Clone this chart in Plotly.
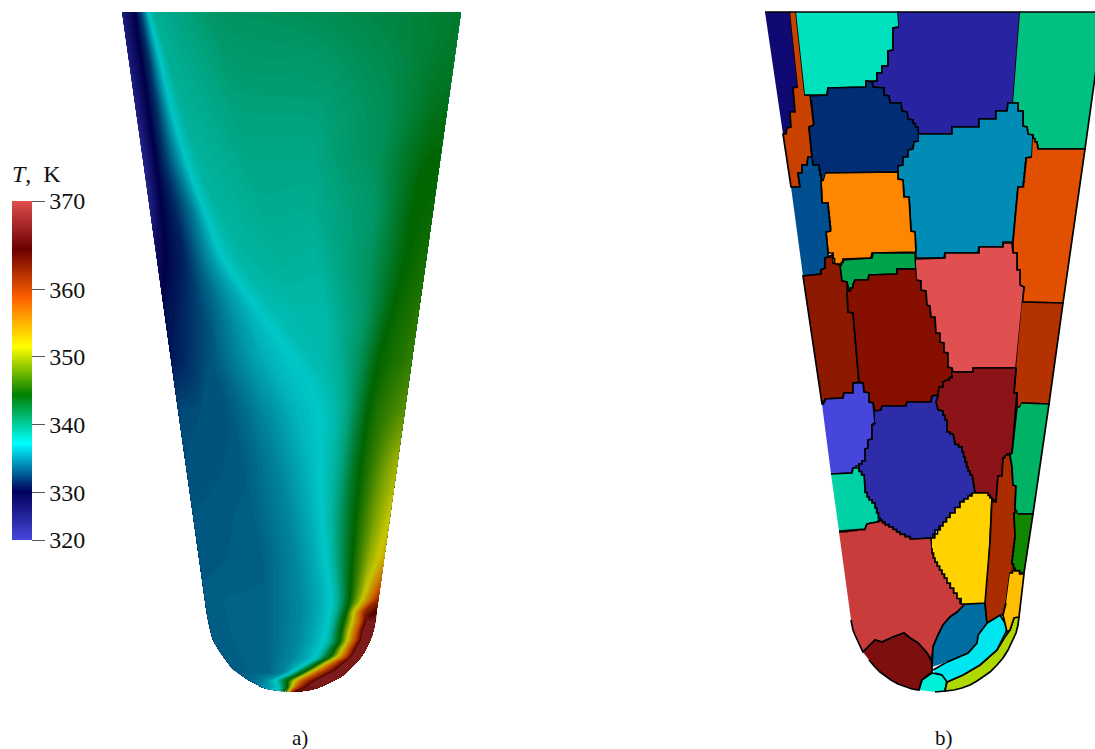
import plotly.graph_objects as go

# ---------- colour scale (position on colour bar, colour) ----------
scale_pos = [0, 0.143, 0.285, 0.429, 0.571, 0.714, 0.857, 1]
scale_col = [(71, 71, 219), (0, 0, 92), (0, 255, 255), (0, 128, 0),
             (255, 255, 0), (255, 97, 0), (107, 0, 0), (224, 77, 77)]
field_shade = 0.78
bar_vals = [323, 330, 340, 350, 360, 373]
bar_text = ["320", "330", "340", "350", "360", "370"]

# ---------- panel a): temperature readings, row by row, across the section ----------
row_y = [
    [12]*14, [60]*14, [110]*14, [160]*14, [210]*14, [260]*14, [310]*14, [360]*14, [410]*14,
    [460]*14, [510]*14, [560]*14, [600]*14, [612]*14,
    [620, 620, 620, 620, 621, 621, 621, 621, 621, 622, 622, 622, 622, 622],
    [630]*13 + [631],
    [640, 640, 640, 640, 640, 640, 641, 642, 642, 642, 641, 641, 640, 640],
    [648, 648, 649, 649, 649, 649, 649.5, 649.5, 649, 649, 648.5, 648.5, 648, 648],
    [655, 656, 658, 658, 658, 658, 658, 657, 656.5, 656, 656, 656, 656, 656],
    [662, 663, 665, 665.5, 664, 663.5, 663.5, 663, 662.5, 662.5, 662.5, 663, 663, 663],
    [668, 669, 672, 673, 670, 669.5, 669, 668.5, 668.5, 669, 669, 670, 670, 670],
    [674, 675, 676.5, 677, 675.5, 675, 675, 674.5, 674.5, 675, 675, 675.5, 675.5, 675.5],
    [680, 681, 681, 681, 680.5, 680.5, 680.5, 680.5, 680.5, 681, 681, 681, 681, 681],
    [684, 684.5, 685, 685, 684.5, 684.5, 684.5, 684.5, 684.5, 684.5, 684.5, 684.6, 684.6, 684.6],
    [687, 687.5, 688, 688, 688, 688, 688, 688, 688, 688, 688, 688, 688, 688],
    [690, 690.5, 691, 691, 691, 691, 691, 691, 691, 691.5, 691.5, 691.8, 691.8, 691.6],
]
row_x = [
    [122, 135, 141, 145, 148, 154, 220, 320, 390, 430, 442, 450, 456, 461],
    [128.8, 142, 149, 155, 160, 168, 230, 320, 390, 425, 437, 445, 450, 454.3],
    [135.8, 149, 157, 165, 172, 182, 240, 320, 390, 420, 430, 437, 442, 447.2],
    [142.9, 156, 165, 177, 187, 197, 250, 310, 380, 424, 430, 434, 437, 440.2],
    [149.9, 162, 175, 193, 205, 217, 265, 310, 375, 413, 420, 425, 430, 433.2],
    [157, 168, 185, 205, 225, 240, 280, 315, 370, 405, 415, 420, 424, 426.2],
    [164, 175, 195, 235, 260, 272, 295, 325, 365, 392, 402, 410, 415, 419.1],
    [171, 182, 220, 262, 297, 312, 325, 340, 360, 378, 388, 396, 404, 412],
    [178, 200, 227, 260, 293, 322, 335, 347, 357, 368, 378, 388, 397, 405],
    [185.1, 210, 240, 275, 305, 322, 333, 343, 352, 361, 372, 381, 390, 398],
    [192.2, 220, 250, 287, 310, 323, 332, 340, 348, 356, 366, 375, 384, 391],
    [199.2, 225, 260, 295, 315, 327, 334, 341, 347, 352, 361, 369, 377, 384],
    [204.8, 225, 265, 300, 320, 332, 338, 343, 347, 350, 356, 362, 369, 378.4],
    [206.5, 226, 267, 302, 319, 330.5, 336, 340.5, 344, 347, 352, 358.5, 365, 376.5],
    [208, 228, 268, 300, 318, 329, 334, 338, 341, 344, 352, 360, 366, 375],
    [210.2, 230, 268, 299, 316, 327, 332, 335.5, 338.5, 341.8, 349.5, 357.5, 363, 373.5],
    [213, 232, 268, 298, 314, 325, 330, 333, 336, 339.5, 347, 354.5, 361, 370.3],
    [217.5, 236, 268, 295, 310.5, 320, 325, 328, 331.5, 335, 342.5, 350, 356.5, 366.5],
    [222, 240, 268, 292, 307, 315, 320, 323, 327, 331, 338, 346, 352, 362],
    [227.3, 244, 268, 287, 299, 306, 310.5, 313.5, 317, 320.5, 327, 335, 344, 356],
    [232, 248, 268, 283, 291, 297, 301, 304, 307, 310, 316, 324, 336, 349],
    [239.6, 253, 267, 276.5, 282, 287, 290.5, 293.5, 296, 299, 305, 313.5, 325.5, 343],
    [248, 258, 266, 270, 273, 277, 280, 283, 285, 288, 294, 303, 315, 333],
    [256, 262, 268.5, 272, 275, 278.5, 281, 283.5, 285.5, 288, 292.5, 299.5, 309.5, 325.7],
    [261, 266, 271, 274, 277, 280, 282, 284, 286, 288, 291, 296, 304, 318],
    [273, 276, 278, 279.5, 281, 282.5, 284, 285, 286, 287, 289, 291, 294, 300],
]
row_t = [
    [326.3, 330.2, 332.5, 335, 337.3, 339, 341, 341.4, 342, 342.4, 342.6, 342.7, 342.8, 342.8],
    [326.3, 330.2, 332, 335, 337.3, 339, 340.5, 340.7, 341.7, 342.5, 342.8, 342.9, 343, 343],
    [325.8, 330.2, 332, 335, 337.4, 338.9, 340, 340.1, 341.5, 342.8, 343.3, 343.5, 343.6, 343.7],
    [325.3, 330.2, 332, 335, 337.5, 338.7, 339.6, 339.6, 341.3, 344.2, 344.3, 344.4, 344.4, 344.4],
    [325.8, 330.2, 331.5, 334.7, 337.5, 338.6, 339.3, 339.2, 340.8, 344.4, 344.5, 344.6, 344.7, 344.8],
    [328.5, 330.4, 331.5, 334.6, 337.4, 338.5, 338.9, 338.7, 341, 344.4, 344.8, 345, 345.1, 345.2],
    [330.6, 331, 332.2, 335.6, 337.4, 338, 338.3, 338.4, 340.8, 344.4, 345, 345.3, 345.6, 345.9],
    [331, 331.5, 333.7, 336.3, 337.4, 338, 338.3, 339, 341.2, 344.4, 345, 345.4, 345.8, 346.3],
    [332.7, 333, 333.2, 334.8, 336.5, 337.4, 338.3, 339.7, 342, 344.4, 345.5, 346.3, 347, 347.6],
    [333, 333.1, 333.3, 334.8, 336.5, 337.4, 338.4, 340, 342.5, 344.4, 346, 347.5, 349, 350],
    [333.2, 333.3, 333.5, 334.9, 336.4, 337.4, 338.6, 340.5, 342.7, 344.4, 346.5, 348.5, 350.2, 351.5],
    [333.3, 333.4, 333.5, 334.9, 336.3, 337.4, 338.8, 341, 343, 344.4, 347, 349.7, 351.5, 353.5],
    [333.5, 333.6, 333.7, 335, 336.3, 337.4, 339, 341.5, 343.5, 344.6, 348, 351.5, 356, 362],
    [333.5, 333.6, 333.8, 335, 336.3, 337.4, 339, 341.5, 343.5, 344.6, 350, 355.5, 362, 366.5],
    [333.5, 333.6, 333.8, 335, 336.3, 337.4, 339, 341.5, 343.5, 344.6, 351.5, 358.2, 365.8, 369.3],
    [333.5, 333.6, 333.8, 335, 336.3, 337.4, 339, 341.2, 343.2, 344.5, 351.5, 358.5, 365.8, 369.5],
    [333.5, 333.6, 333.8, 335, 336.3, 337.4, 339, 341, 343, 344.4, 351.5, 358.7, 365.8, 369.5],
    [333.5, 333.6, 333.8, 335, 336.3, 337.4, 339, 341, 343, 344.4, 351.5, 358.7, 365.8, 369.5],
    [333.5, 333.6, 333.8, 335, 336.3, 337.4, 339, 341, 343, 344.4, 351.5, 358.7, 365.8, 369.5],
    [333.5, 333.6, 333.8, 335, 336.3, 337.4, 339, 341, 343, 344.4, 351.5, 358.7, 365.8, 369.5],
    [333.5, 333.6, 333.8, 335, 336.3, 337.4, 339, 341, 343, 344.4, 351.5, 358.7, 365.8, 369.5],
    [333.6, 333.9, 334.6, 335.5, 336.5, 337.5, 339.2, 341.2, 343, 344.4, 351.3, 358.7, 365.8, 369.5],
    [333.7, 334.3, 335.2, 336, 336.8, 337.6, 339.5, 341.5, 343, 344.4, 351, 358.7, 365.8, 369.5],
    [334.3, 334.9, 335.6, 336.2, 336.9, 337.8, 339.7, 341.7, 343.2, 344.7, 351.2, 358.8, 365.8, 369.3],
    [335, 335.5, 336, 336.5, 337, 338, 340, 342, 343.5, 345, 351.5, 359, 365.8, 369],
    [336.5, 337, 337.4, 338, 339.5, 341.5, 343.5, 345, 346.5, 349, 353, 359, 365, 368],
]
# rounded nose of the section, wall colour behind the field
nose_left = [(205,600),(207,612),(208,620),(210,630),(213,640),(217.5,648),(222,655),(227,662),(232,669),(240,674),(248,680),(256,684),(266,688),(275,690.5),(285,692),(290,680),(250,640),(240,600)]
nose_right = [(378.4,600),(377,610),(376,620),(374,630),(370.3,640),(366.4,648),(361,656),(356,663),(349,670),(343,675),(333,681),(326,684.6),(318,688),(308,690.5),(295,692),(300,680),(350,630),(370,600)]
nose_colors = ["rgb(0,93,127)", "rgb(130,32,32)"]

# ---------- panel b): grains, outline vertices and colour ----------
grain_colors = [
    "rgb(15,10,115)", "rgb(200,65,0)", "rgb(0,225,190)", "rgb(40,35,160)", "rgb(0,192,130)",
    "rgb(0,45,115)", "rgb(0,140,180)", "rgb(225,80,0)", "rgb(255,135,0)", "rgb(0,80,145)",
    "rgb(0,165,75)", "rgb(140,25,0)", "rgb(135,15,0)", "rgb(225,80,80)", "rgb(180,50,0)",
    "rgb(140,20,25)", "rgb(70,70,220)", "rgb(45,45,170)", "rgb(0,210,165)", "rgb(200,60,60)",
    "rgb(125,15,15)", "rgb(0,240,215)", "rgb(175,215,0)", "rgb(0,230,240)", "rgb(0,110,160)",
    "rgb(255,210,0)", "rgb(170,45,0)", "rgb(0,178,100)", "rgb(15,135,0)", "rgb(255,190,0)",
]
grain_outlines = [
    [(765,12),(790,12),(798,87),(793,88),(795,112),(790,112),(791,127),(787,128),(786,134),(783,134)],
    [(790,12),(796,12),(805,95),(810,95),(814,125),(809,127),(812,157),(808,157),(807,165),(802,165),(802,173),(798,173),(800,187),(791,187),(783,134),(786,134),(787,128),(791,127),(790,112),(795,112),(793,88),(798,87)],
    [(796,12),(898,12),(899,27),(893,28),(893,50),(888,51),(888,66),(882,66),(882,73),(877,73),(877,81),(866,81),(866,87),(828,88),(827,95),(805,95)],
    [(898,12),(1020,12),(1013,103),(1008,103),(1007,111),(996,111),(996,119),(979,119),(979,127),(952,127),(952,134),(919,134),(913,120),(908,119),(907,112),(902,111),(901,103),(890,103),(889,96),(884,95),(884,88),(873,87),(872,82),(877,81),(877,73),(882,73),(882,66),(888,66),(888,51),(893,50),(893,28),(899,27)],
    [(1020,12),(1104,12),(1085,149),(1038,149),(1037,142),(1028,134),(1027,127),(1023,126),(1023,111),(1018,111),(1018,103),(1013,103)],
    [(811,96),(827,95),(828,88),(866,87),(866,81),(872,82),(873,87),(884,88),(884,95),(889,96),(890,103),(901,103),(902,111),(907,112),(908,119),(913,120),(918,127),(919,141),(914,142),(913,149),(908,150),(908,157),(903,157),(903,165),(898,166),(898,172),(826,173),(824,180),(822,180),(819,165),(813,165),(812,157),(809,127),(814,125)],
    [(919,134),(952,134),(952,127),(979,127),(979,119),(996,119),(996,111),(1007,111),(1008,103),(1018,103),(1018,111),(1023,111),(1023,126),(1027,127),(1028,134),(1033,135),(1032,157),(1026,158),(1023,187),(1018,187),(1013,242),(1003,242),(1003,247),(979,247),(978,253),(945,253),(944,258),(916,258),(915,232),(911,231),(909,197),(904,197),(903,180),(898,179),(898,166),(903,165),(903,157),(908,157),(908,150),(913,149),(914,142),(919,141)],
    [(1033,135),(1037,142),(1038,149),(1085,149),(1063,303),(1022,302),(1024,287),(1020,285),(1020,270),(1017,270),(1017,253),(1013,253),(1013,242),(1018,187),(1023,187),(1026,158),(1032,157)],
    [(826,173),(898,172),(898,179),(903,180),(904,197),(909,197),(911,231),(915,232),(916,252),(872,253),(871,258),(843,259),(842,264),(836,264),(833,253),(828,253),(826,232),(831,231),(828,203),(822,203),(821,181),(824,180)],
    [(791,187),(800,187),(798,173),(802,173),(802,165),(807,165),(808,157),(812,157),(813,165),(819,165),(822,180),(821,181),(822,203),(828,203),(831,231),(826,232),(828,253),(828,257),(825,258),(825,268),(821,270),(821,274),(803,276)],
    [(840,265),(843,260),(872,258),(873,253),(915,253),(916,269),(897,269),(897,274),(869,275),(868,280),(855,280),(853,285),(849,291),(847,282),(842,281)],
    [(832,254),(833,263),(840,265),(842,281),(847,282),(848,312),(853,313),(859,382),(853,383),(853,393),(844,393),(843,398),(825,399),(822,404),(803,276),(821,274),(821,270),(825,268),(825,258),(828,257)],
    [(848,291),(853,285),(855,280),(868,280),(869,275),(897,274),(897,269),(916,269),(917,280),(921,281),(921,290),(926,291),(927,305),(930,306),(931,317),(935,317),(936,333),(940,333),(940,342),(944,343),(944,352),(948,353),(948,367),(952,368),(952,375),(947,380),(943,382),(943,387),(939,387),(938,395),(932,396),(931,402),(907,402),(906,406),(882,406),(881,410),(875,411),(873,403),(869,402),(869,393),(864,392),(863,383),(859,382),(853,313),(848,312),(847,292)],
    [(916,259),(945,258),(945,253),(979,253),(979,247),(1003,247),(1003,243),(1012,243),(1013,253),(1017,253),(1017,270),(1020,270),(1020,285),(1024,287),(1016,368),(973,368),(973,372),(953,372),(952,368),(948,367),(948,353),(944,352),(944,343),(940,342),(940,333),(936,333),(935,317),(931,317),(930,306),(927,305),(926,291),(921,290),(921,281),(917,280)],
    [(1022,302),(1063,303),(1049,404),(1022,403),(1020,407),(1017,407),(1017,393),(1014,393),(1016,368)],
    [(953,372),(973,372),(973,368),(1016,368),(1014,393),(1017,393),(1012,453),(1007,454),(1003,458),(1002,476),(998,476),(996,502),(992,502),(991,497),(988,493),(975,493),(974,485),(972,475),(968,467),(965,457),(962,447),(955,442),(953,434),(947,430),(947,420),(943,411),(938,410),(936,402),(938,395),(939,387),(943,387),(943,382),(947,380),(952,375)],
    [(822,404),(825,399),(843,398),(844,393),(853,393),(853,383),(863,383),(864,392),(869,393),(869,402),(873,403),(875,422),(872,425),(872,439),(868,440),(868,448),(865,449),(865,458),(859,464),(853,468),(852,473),(831,474)],
    [(875,411),(881,410),(882,406),(906,406),(907,402),(931,402),(932,396),(938,395),(936,402),(938,410),(943,411),(947,420),(947,430),(953,434),(955,442),(962,447),(965,457),(968,467),(972,475),(974,485),(975,493),(970,495),(967,500),(960,502),(950,513),(943,522),(935,530),(931,538),(915,539),(900,532),(893,527),(885,522),(880,518),(875,503),(869,497),(865,488),(864,475),(859,468),(859,464),(865,458),(865,449),(868,448),(868,440),(872,439),(872,425),(875,422)],
    [(831,474),(852,473),(853,468),(859,468),(864,475),(865,488),(869,497),(875,503),(880,518),(877,522),(867,524),(865,529),(839,531)],
    [(839,532),(865,529),(867,524),(877,522),(880,519),(885,523),(893,527),(900,532),(915,539),(931,538),(932,548),(935,558),(942,570),(947,578),(957,593),(963,603),(967,606),(957,612),(950,617),(943,625),(938,635),(933,647),(932,660),(927,653),(918,643),(910,638),(904,633),(893,637),(882,642),(875,640),(863,652),(860,646),(857,640),(855,635),(853,630),(852,625),(851,620)],
    [(863,652),(875,640),(882,642),(893,637),(904,633),(910,638),(918,643),(927,653),(932,662),(932,672),(922,680),(919,690),(912,689),(906,687),(898,684),(891,680),(885,676),(880,672),(875,667),(869,660)],
    [(919,690),(922,680),(932,673),(942,675),(947,680),(945,691),(935,692)],
    [(1019,617),(1018,625),(1016,633),(1012,642),(1008,650),(1003,658),(997,665),(990,672),(983,677),(977,681),(970,685),(962,688),(954,690),(945,691),(947,682),(963,675),(980,665),(997,650),(1005,637),(1010,630),(1014,618)],
    [(933,670),(947,662),(968,653),(977,643),(978,635),(987,623),(1000,615),(1005,623),(1007,630),(997,650),(980,665),(963,675),(947,682),(942,675),(935,673)],
    [(932,667),(933,647),(938,635),(943,625),(950,617),(957,612),(965,604),(985,603),(987,623),(978,635),(977,643),(968,653),(947,662)],
    [(932,538),(943,522),(950,513),(960,502),(972,493),(988,493),(992,498),(990,542),(987,603),(965,604),(957,593),(947,578),(942,570),(935,558),(932,548)],
    [(1006,455),(1010,455),(1012,467),(1013,485),(1016,486),(1015,507),(1018,514),(1014,513),(1015,535),(1012,560),(1015,568),(1010,573),(1006,603),(1003,615),(1000,615),(987,623),(985,603),(990,542),(992,498),(996,502),(998,476),(1002,476),(1003,458)],
    [(1022,403),(1049,404),(1033,514),(1018,514),(1015,507),(1016,486),(1013,485),(1012,467),(1010,455),(1012,453),(1017,407),(1020,407)],
    [(1018,514),(1033,514),(1024,573),(1015,568),(1012,560),(1015,535),(1014,513)],
    [(1010,573),(1015,568),(1024,574),(1019,617),(1014,618),(1010,630),(1007,632),(1005,623),(1003,615),(1006,603)],
]
panel_labels = ["a)", "b)"]


def stepped(outline):
    """Grain boundaries follow mesh cells: draw short slanted edges as stair steps."""
    out = []
    n = len(outline)
    for i in range(n):
        a, b = outline[i], outline[(i + 1) % n]
        out.append(a)
        dx, dy = b[0] - a[0], b[1] - a[1]
        if abs(dx) >= 3 and abs(dy) >= 3 and dx * dx + dy * dy < 900 and max(a[1], b[1]) < 610:
            steps = max(2, round(max(abs(dx), abs(dy)) / 4.5))
            top, bot = (a, b) if (a[1], a[0]) < (b[1], b[0]) else (b, a)
            pts = []
            for k in range(steps):
                y2 = top[1] + (bot[1] - top[1]) * (k + 1) / steps
                x1 = top[0] + (bot[0] - top[0]) * k / steps
                x2 = top[0] + (bot[0] - top[0]) * (k + 1) / steps
                pts += [(x1, y2), (x2, y2)]
            pts = pts[:-1]
            out += pts if top == a else pts[::-1]
    return out


# ---------- figure ----------
SERIF = "Liberation Serif"
cscale = [[p, "rgb(%d,%d,%d)" % c] for p, c in zip(scale_pos, scale_col)]
field_scale = [[p, "rgb(%d,%d,%d)" % tuple(round(v*field_shade) for v in c)]
               for p, c in zip(scale_pos, scale_col)]
stations = list(range(len(row_x[0])))
rows = list(range(len(row_x)))

fig = go.Figure()
for col, outline in zip(nose_colors, [nose_left, nose_right]):
    path = "M " + " L ".join("%g %g" % p for p in outline) + " Z"
    fig.add_shape(type="path", path=path, xref="x", yref="y", layer="below",
                  fillcolor=col, line=dict(width=0))

hidden_axis = dict(showgrid=False, showline=False, showticklabels="none", startline=False,
                   endline=False, minorgridcount=0, tickmode="array", tickvals=[])
fig.add_trace(go.Carpet(
    a=stations, b=rows, x=row_x, y=row_y, carpet="sec",
    aaxis=dict(smoothing=0, **hidden_axis),
    baxis=dict(smoothing=1, **hidden_axis),
))
fig.add_trace(go.Contourcarpet(
    a=stations, b=rows, z=row_t, carpet="sec",
    autocontour=False, zmin=323, zmax=373,
    contours=dict(start=323, end=373, size=0.2, coloring="fill", showlines=False),
    line=dict(width=0), colorscale=field_scale, showscale=False,
))
fig.add_trace(go.Scatter(
    x=[-100], y=[-100], mode="markers", hoverinfo="skip",
    marker=dict(size=1, color=[323], cmin=323, cmax=373, colorscale=cscale, showscale=True,
        colorbar=dict(
            x=12/1095, xanchor="left", xref="paper", y=(749-540)/749, yanchor="bottom", yref="paper",
            len=339/749, lenmode="fraction", thickness=20, thicknessmode="pixels",
            xpad=0, ypad=0, outlinewidth=0, ticks="outside", ticklen=13, tickwidth=1,
            tickcolor="#555555", tickvals=bar_vals, ticktext=bar_text,
            tickfont=dict(family=SERIF, size=24, color="#111111"),
        )),
))
for col, outline in zip(grain_colors, grain_outlines):
    pts = stepped(outline)
    xs = [p[0] for p in pts]
    ys = [p[1] for p in pts]
    fig.add_trace(go.Scatter(x=xs, y=ys, mode="lines", fill="toself", fillcolor=col,
                             line=dict(color="black", width=1.7), hoverinfo="skip"))

fig.add_annotation(x=10, y=174, xref="x", yref="y", xanchor="left", yanchor="middle", showarrow=False,
                   text="<i>T</i>,  K", font=dict(family=SERIF, size=24, color="#111111"))
for label, px in zip(panel_labels, [300, 944]):
    fig.add_annotation(x=px, y=738, xref="x", yref="y", showarrow=False, text=label,
                       font=dict(family=SERIF, size=21, color="#111111"))

fig.update_layout(
    width=1095, height=749, margin=dict(l=0, r=0, t=0, b=0),
    paper_bgcolor="white", plot_bgcolor="white", showlegend=False,
    xaxis=dict(range=[0, 1095], visible=False, fixedrange=True),
    yaxis=dict(range=[749, 0], visible=False, fixedrange=True),
)
fig.write_html("out.html", config=dict(displayModeBar=False),
               post_script="document.body.style.margin='0';document.body.style.overflow='hidden';")
